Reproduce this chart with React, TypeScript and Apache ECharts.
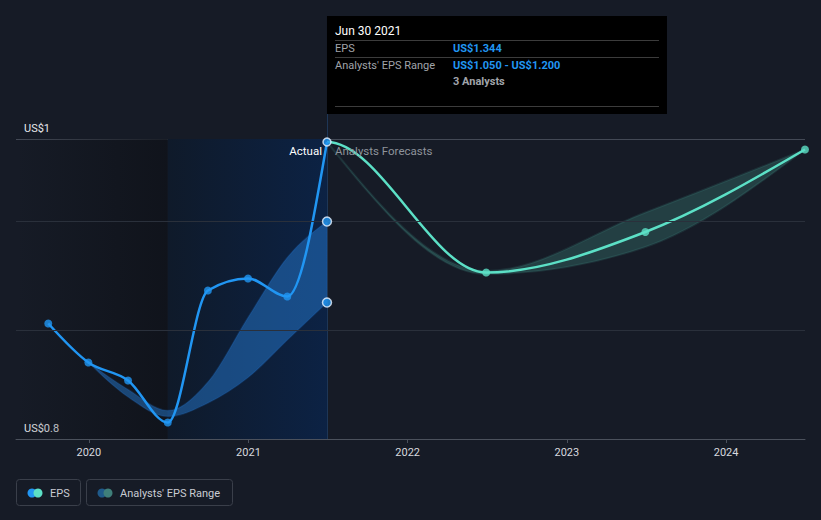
import React, { useEffect, useRef } from 'react';
import * as echarts from 'echarts';

// ---- data ----
const actualDates = ['2019-09-30', '2019-12-31', '2020-03-31', '2020-06-30', '2020-09-30', '2020-12-31', '2021-03-31', '2021-06-30'];
const actualEps = [0.877, 0.851, 0.839, 0.811, 0.899, 0.907, 0.895, 0.998];

const pastRangeDates = ['2019-12-31', '2020-03-31', '2020-06-30', '2020-09-30', '2020-12-31', '2021-03-31', '2021-06-30'];
const pastRangeLow = [0.851, 0.828, 0.815, 0.824, 0.841, 0.866, 0.891];
const pastRangeHigh = [0.851, 0.833, 0.819, 0.838, 0.881, 0.921, 0.945];

const forecastDates = ['2021-06-30', '2022-06-30', '2023-06-30', '2024-06-30'];
const forecastEps = [0.998, 0.911, 0.938, 0.993];
const forecastLow = [0.998, 0.910, 0.928, 0.993];
const forecastHigh = [0.998, 0.912, 0.951, 0.993];

const yTickValues = [0.8, 1.0];
const yTickLabels = ['US$0.8', 'US$1'];
const extraGridValues = [0.8727, 0.9453];

const xMin = '2019-07-18';
const xMax = '2024-06-30';
const splitDate = '2020-06-30';
const nowDate = '2021-06-30';

const tipTitle = 'Jun 30 2021';
const tipRows = [
  { label: 'EPS', value: 'US$1.344' },
  { label: "Analysts' EPS Range", value: 'US$1.050 - US$1.200' },
];
const tipNote = '3 Analysts';

const BLUE = '#2196f3';
const TEAL = '#5ce0c6';
const FONT = 'Roboto, "Noto Sans", sans-serif';

const toTime = (s: string) => Date.parse(s + 'T00:00:00Z');

// ---- monotone-x cubic helpers (pixel space) ----
type P = number[];
function slope3(a: P, b: P, c: P) {
  const h0 = b[0] - a[0], h1 = c[0] - b[0];
  const s0 = (b[1] - a[1]) / h0, s1 = (c[1] - b[1]) / h1;
  const p = (s0 * h1 + s1 * h0) / (h0 + h1);
  return (Math.sign(s0) + Math.sign(s1)) * Math.min(Math.abs(s0), Math.abs(s1), 0.5 * Math.abs(p)) || 0;
}
function tangents(p: P[]) {
  const n = p.length;
  const t = new Array(n).fill(0);
  if (n < 2) return t;
  if (n === 2) {
    const s = (p[1][1] - p[0][1]) / (p[1][0] - p[0][0]);
    return [s, s];
  }
  for (let i = 1; i < n - 1; i++) t[i] = slope3(p[i - 1], p[i], p[i + 1]);
  t[0] = (3 * (p[1][1] - p[0][1]) / (p[1][0] - p[0][0]) - t[1]) / 2;
  t[n - 1] = (3 * (p[n - 1][1] - p[n - 2][1]) / (p[n - 1][0] - p[n - 2][0]) - t[n - 2]) / 2;
  return t;
}
function fwd(p: P[], t: number[], from: number) {
  let d = '';
  for (let i = from; i < p.length - 1; i++) {
    const [x0, y0] = p[i], [x1, y1] = p[i + 1];
    const dx = (x1 - x0) / 3;
    d += ` C ${x0 + dx} ${y0 + dx * t[i]} ${x1 - dx} ${y1 - dx * t[i + 1]} ${x1} ${y1}`;
  }
  return d;
}
function back(p: P[], t: number[], from: number) {
  let d = '';
  for (let i = p.length - 2; i >= from; i--) {
    const [x0, y0] = p[i], [x1, y1] = p[i + 1];
    const dx = (x1 - x0) / 3;
    d += ` C ${x1 - dx} ${y1 - dx * t[i + 1]} ${x0 + dx} ${y0 + dx * t[i]} ${x0} ${y0}`;
  }
  return d;
}
function linePath(p: P[], from = 0) {
  const t = tangents(p);
  return `M ${p[from][0]} ${p[from][1]}` + fwd(p, t, from);
}
function bandPath(up: P[], lo: P[]) {
  const tu = tangents(up), tl = tangents(lo);
  const n = lo.length - 1;
  return `M ${up[0][0]} ${up[0][1]}` + fwd(up, tu, 0) + ` L ${lo[n][0]} ${lo[n][1]}` + back(lo, tl, 0) + ' Z';
}

export default function App() {
  const ref = useRef<HTMLDivElement>(null);

  useEffect(() => {
    const chart = echarts.init(ref.current!, null, { renderer: 'svg' });

    const actualPts = actualDates.map((d, i) => [toTime(d), actualEps[i]]);
    const pastHiPts = pastRangeDates.map((d, i) => [toTime(d), pastRangeHigh[i]]);
    const pastLoPts = pastRangeDates.map((d, i) => [toTime(d), pastRangeLow[i]]);
    const fcPts = forecastDates.map((d, i) => [toTime(d), forecastEps[i]]);
    const fcHiPts = forecastDates.map((d, i) => [toTime(d), forecastHigh[i]]);
    const fcLoPts = forecastDates.map((d, i) => [toTime(d), forecastLow[i]]);
    // forecast line continues the actual line: previous actual point gives the tangent
    const fcWithContext = [actualPts[actualPts.length - 2], ...fcPts];

    const customSeries = (name: string, z: number, build: (api: any) => any) => ({
      name,
      type: 'custom',
      z,
      silent: true,
      data: [[toTime(nowDate), 0.9]],
      encode: { x: 0, y: 1 },
      renderItem: (params: any, api: any) => {
        if (params.dataIndex !== 0) return null;
        return build(api);
      },
    });
    const px = (api: any, pts: number[][]) => pts.map((p) => api.coord(p));

    const actualData = actualPts.map((p, i) => {
      const item: any = { value: p };
      if (i === actualPts.length - 1) item.itemStyle = { borderColor: '#e8f3ff', borderWidth: 1.5 };
      return item;
    });
    const lastIdx = pastRangeDates.length - 1;
    const rangeEndPoints = [pastHiPts[lastIdx], pastLoPts[lastIdx]];

    const option: any = {
      animation: false,
      backgroundColor: '#161b26',
      useUTC: true,
      textStyle: { fontFamily: FONT },
      grid: { left: 16, right: 16, top: 139, bottom: 81 },
      xAxis: {
        type: 'time',
        min: toTime(xMin),
        max: toTime(xMax),
        minInterval: 365 * 86400000,
        maxInterval: 366 * 86400000,
        axisLine: { lineStyle: { color: '#4b515c', width: 1 } },
        axisTick: { show: true, length: 4, lineStyle: { color: '#4b515c' } },
        axisLabel: {
          color: '#d6d9df',
          fontSize: 11,
          margin: 8,
          formatter: (v: number) => {
            const d = new Date(v);
            return d.getUTCMonth() === 0 && d.getUTCDate() === 1 ? String(d.getUTCFullYear()) : '';
          },
        },
        splitLine: { show: false },
      },
      yAxis: {
        type: 'value',
        min: yTickValues[0],
        max: yTickValues[1],
        interval: 0.2,
        axisLine: { show: false },
        axisTick: { show: false },
        splitLine: { show: true, lineStyle: { color: '#434955' } },
        axisLabel: {
          inside: true,
          margin: 8,
          color: '#e6e8ec',
          fontSize: 11,
          verticalAlign: 'bottom',
          padding: [0, 0, 5, 0],
          formatter: (v: number) => {
            const idx = yTickValues.findIndex((t) => Math.abs(t - v) < 1e-6);
            return idx >= 0 ? yTickLabels[idx] : '';
          },
        },
      },
      series: [
        {
          name: 'backdrop',
          type: 'line',
          data: [],
          z: 0,
          silent: true,
          markArea: {
            silent: true,
            data: [
              [
                {
                  xAxis: toTime(xMin),
                  itemStyle: {
                    color: new echarts.graphic.LinearGradient(0, 0, 1, 0, [
                      { offset: 0, color: 'rgba(14,17,24,0)' },
                      { offset: 1, color: 'rgba(14,17,24,0.75)' },
                    ]),
                  },
                },
                { xAxis: toTime(splitDate) },
              ],
              [
                {
                  xAxis: toTime(splitDate),
                  itemStyle: {
                    color: new echarts.graphic.LinearGradient(0, 0, 1, 0, [
                      { offset: 0, color: '#0f1a2a' },
                      { offset: 1, color: '#0c2244' },
                    ]),
                  },
                },
                { xAxis: toTime(nowDate) },
              ],
            ],
          },
          markLine: {
            silent: true,
            symbol: 'none',
            precision: 6,
            label: { show: false },
            lineStyle: { color: '#2a303b', type: 'solid', width: 1 },
            data: extraGridValues.map((v) => ({ yAxis: v })),
          },
        },
        customSeries('pastBand', 1, (api) => ({
          type: 'path',
          shape: { pathData: bandPath(px(api, pastHiPts), px(api, pastLoPts)) },
          style: { fill: 'rgba(40,130,225,0.45)', stroke: 'rgba(40,130,225,0.18)', lineWidth: 1.5 },
        })),
        customSeries('fcBand', 1, (api) => ({
          type: 'path',
          shape: { pathData: bandPath(px(api, fcHiPts), px(api, fcLoPts)) },
          style: { fill: 'rgba(80,190,175,0.22)', stroke: 'rgba(80,190,175,0.12)', lineWidth: 2 },
        })),
        customSeries('fcLine', 2, (api) => ({
          type: 'path',
          shape: { pathData: linePath(px(api, fcWithContext), 1) },
          style: { fill: 'none', stroke: TEAL, lineWidth: 2.5 },
        })),
        customSeries('actualLine', 3, (api) => ({
          type: 'path',
          shape: { pathData: linePath(px(api, actualPts), 0) },
          style: { fill: 'none', stroke: BLUE, lineWidth: 2.5 },
        })),
        {
          name: 'Forecast EPS',
          type: 'scatter',
          symbol: 'circle',
          symbolSize: 8,
          itemStyle: { color: TEAL },
          data: fcPts.slice(1),
          z: 4,
        },
        {
          name: 'EPS',
          type: 'scatter',
          symbol: 'circle',
          symbolSize: 8,
          itemStyle: { color: BLUE },
          data: actualData,
          z: 5,
        },
        {
          name: 'rangeEnds',
          type: 'scatter',
          symbol: 'circle',
          symbolSize: 9,
          itemStyle: { color: BLUE, borderColor: '#e8f3ff', borderWidth: 1.5 },
          data: rangeEndPoints,
          z: 5,
        },
      ],
    };

    chart.setOption(option);

    const nx = chart.convertToPixel({ xAxisIndex: 0 }, toTime(nowDate)) as number;
    const yTop = chart.convertToPixel({ yAxisIndex: 0 }, yTickValues[1]) as number;
    const yBot = chart.convertToPixel({ yAxisIndex: 0 }, yTickValues[0]) as number;

    const tipX = nx;
    const tipY = 16;
    const tipW = 340;
    const tipH = 98;
    const col2 = tipX + 126;
    const f = `11px ${FONT}`;
    const fb = `bold 11px ${FONT}`;

    const graphic: any[] = [
      {
        type: 'line',
        z: 1,
        silent: true,
        shape: { x1: nx + 0.5, y1: tipY + tipH, x2: nx + 0.5, y2: yBot },
        style: { stroke: '#1f3858', lineWidth: 1 },
      },
      { type: 'rect', z: 10, shape: { x: tipX, y: tipY, width: tipW, height: tipH }, style: { fill: '#000000' } },
      { type: 'text', z: 11, x: tipX + 8, y: 31, style: { text: tipTitle, fill: '#ffffff', font: `12px ${FONT}`, verticalAlign: 'middle' } },
      { type: 'line', z: 11, shape: { x1: tipX + 8, y1: 40.5, x2: tipX + tipW - 8, y2: 40.5 }, style: { stroke: '#3c3c3c', lineWidth: 1 } },
      { type: 'text', z: 11, x: tipX + 8, y: 48, style: { text: tipRows[0].label, fill: '#a0a4aa', font: f, verticalAlign: 'middle' } },
      { type: 'text', z: 11, x: col2, y: 48, style: { text: tipRows[0].value, fill: BLUE, font: fb, verticalAlign: 'middle' } },
      { type: 'line', z: 11, shape: { x1: tipX + 8, y1: 57.5, x2: tipX + tipW - 8, y2: 57.5 }, style: { stroke: '#3c3c3c', lineWidth: 1 } },
      { type: 'text', z: 11, x: tipX + 8, y: 65, style: { text: tipRows[1].label, fill: '#a0a4aa', font: f, verticalAlign: 'middle' } },
      { type: 'text', z: 11, x: col2, y: 65, style: { text: tipRows[1].value, fill: BLUE, font: fb, verticalAlign: 'middle' } },
      { type: 'text', z: 11, x: col2, y: 81, style: { text: tipNote, fill: '#a0a4aa', font: fb, verticalAlign: 'middle' } },
      { type: 'line', z: 11, shape: { x1: tipX + 8, y1: 106.5, x2: tipX + tipW - 8, y2: 106.5 }, style: { stroke: '#3c3c3c', lineWidth: 1 } },
      { type: 'text', z: 6, x: nx - 5, y: yTop + 12, style: { text: 'Actual', fill: '#ffffff', font: `11.5px ${FONT}`, align: 'right', verticalAlign: 'middle' } },
      { type: 'text', z: 6, x: nx + 8, y: yTop + 12, style: { text: 'Analysts Forecasts', fill: '#8e939b', font: `11.5px ${FONT}`, align: 'left', verticalAlign: 'middle' } },
      // legend
      { type: 'rect', z: 6, shape: { x: 16.5, y: 479.5, width: 64, height: 26, r: 3 }, style: { fill: 'transparent', stroke: '#3a3f4a', lineWidth: 1 } },
      { type: 'circle', z: 7, shape: { cx: 32, cy: 493, r: 4.5 }, style: { fill: BLUE } },
      { type: 'circle', z: 8, shape: { cx: 38, cy: 493, r: 4.5 }, style: { fill: TEAL } },
      { type: 'text', z: 7, x: 50, y: 493, style: { text: 'EPS', fill: '#c9ccd3', font: f, verticalAlign: 'middle' } },
      { type: 'rect', z: 6, shape: { x: 86.5, y: 479.5, width: 146, height: 26, r: 3 }, style: { fill: 'transparent', stroke: '#3a3f4a', lineWidth: 1 } },
      { type: 'circle', z: 7, shape: { cx: 102, cy: 493, r: 4.5 }, style: { fill: '#1f5a8a' } },
      { type: 'circle', z: 8, shape: { cx: 108, cy: 493, r: 4.5 }, style: { fill: '#3f7f7a' } },
      { type: 'text', z: 7, x: 120, y: 493, style: { text: "Analysts' EPS Range", fill: '#c9ccd3', font: f, verticalAlign: 'middle' } },
    ];

    chart.setOption({ graphic });

    return () => chart.dispose();
  }, []);

  return <div ref={ref} style={{ position: 'fixed', left: 0, top: 0, width: 821, height: 520 }} />;
}
